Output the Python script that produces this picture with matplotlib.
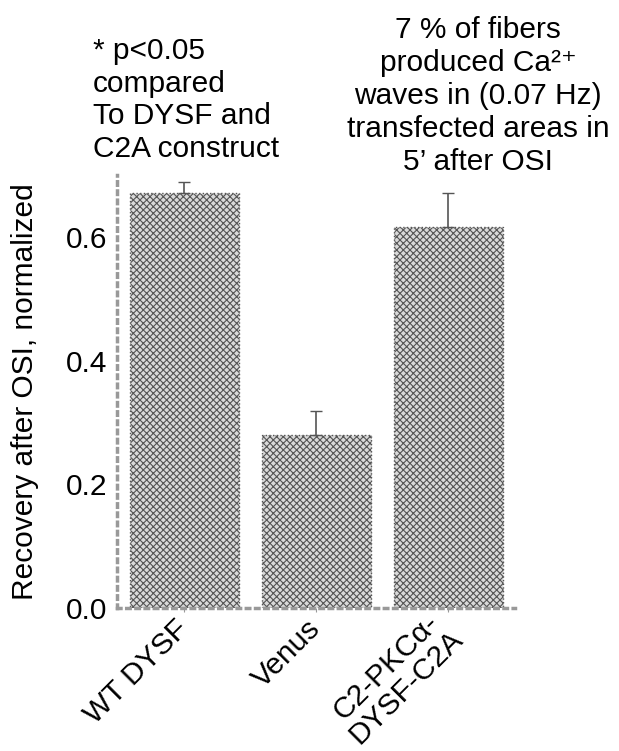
import numpy as np
import matplotlib.pyplot as plt

plt.rcParams['font.family'] = ['Liberation Sans', 'DejaVu Sans']
plt.rcParams['hatch.linewidth'] = 0.8
plt.rcParams['hatch.color'] = '#666666'

groups = ['WT DYSF', 'Venus', 'C2-PKC\u03b1-\nDYSF-C2A']
recovery = [0.672, 0.280, 0.617]
sem = [0.018, 0.039, 0.055]

fig = plt.figure(figsize=(6.19, 7.51), dpi=100)
ax = fig.add_axes([117/619, 143/751, 398/619, 433/751])

x = np.arange(len(groups))
ax.bar(x, recovery, width=0.826, color='#dadada', edgecolor='#555555',
       hatch='xxxxx', linewidth=1.0, linestyle=':')
ax.errorbar(x, recovery, yerr=[np.zeros(3), sem], fmt='none', ecolor='#555555',
            elinewidth=1.2, capsize=4, capthick=1, linestyle=':')

ax.set_xlim(-0.511, 2.504)
ax.set_ylim(0, 0.701)
ax.set_yticks([0.0, 0.2, 0.4, 0.6])
ax.set_yticklabels(['0.0', '0.2', '0.4', '0.6'], fontsize=21.5)
ax.set_xticks(x)
ax.set_xticklabels(groups, rotation=45, ha='right', va='center',
                   rotation_mode='anchor', multialignment='center',
                   fontsize=21.5, linespacing=1.0)
ax.tick_params(axis='y', length=0, pad=7)
ax.tick_params(axis='x', length=3, color='#999999', pad=9)
for s in ['top', 'right']:
    ax.spines[s].set_visible(False)
for s in ['left', 'bottom']:
    ax.spines[s].set_linestyle(':')
    ax.spines[s].set_linewidth(2.5)
    ax.spines[s].set_color('#999999')

ax.set_ylabel('Recovery after OSI, normalized', fontsize=21.5)
ax.yaxis.set_label_coords((39 - 117) / 398, 0.5)

fig.text(93/619, 1 - 100/751, '* p<0.05\ncompared\nTo DYSF and\nC2A construct',
         fontsize=21.5, ha='left', va='center', linespacing=1.2)
fig.text(478/619, 1 - 96/751,
         '7 % of fibers\nproduced Ca\u00b2\u207a\nwaves in (0.07 Hz)\ntransfected areas in\n5\u2019 after OSI',
         fontsize=21.5, ha='center', va='center', linespacing=1.22)

fig.savefig('out.png', dpi=100)
